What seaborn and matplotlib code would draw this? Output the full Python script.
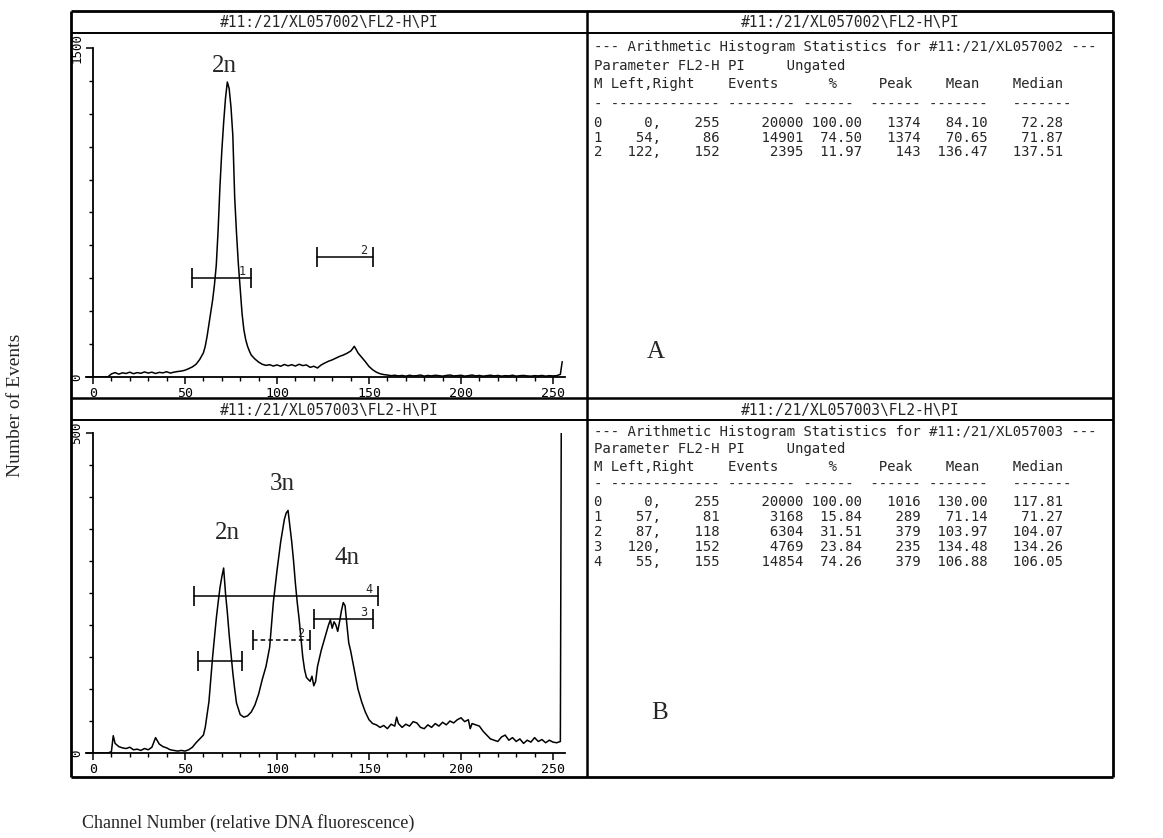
import numpy as np
import pandas as pd
import matplotlib
matplotlib.use("Agg")
import matplotlib.pyplot as plt
import seaborn as sns
from matplotlib.lines import Line2D

# ---------------- data ----------------
title_a = "#11:/21/XL057002\\FL2-H\\PI"
title_b = "#11:/21/XL057003\\FL2-H\\PI"

chan_a = [0, 2, 4, 6, 8, 10, 12, 14, 16, 18, 20, 22, 24, 26, 28, 30, 32, 34, 36, 38,
          40, 42, 44, 46, 48, 50, 52, 54, 56, 58,
          60, 61, 62, 63, 64, 65, 66, 67, 68, 69, 70, 71, 72, 73, 74, 75, 76, 77, 78, 79,
          80, 81, 82, 83, 84, 85, 86,
          88, 90, 92, 94, 96, 98, 100, 102, 104, 106, 108, 110, 112, 114, 116, 118, 120,
          122, 124, 126, 128, 130, 132, 134, 136, 138, 140, 141, 142, 143, 144, 146, 148,
          150, 152, 154, 156, 158, 160, 162, 164, 166, 168, 170, 172, 174, 176, 178, 180,
          182, 184, 186, 188, 190, 192, 194, 196, 198, 200, 202, 204, 206, 208, 210, 212,
          214, 216, 218, 220, 222, 224, 226, 228, 230, 232, 234, 236, 238, 240, 242, 244,
          246, 248, 250, 252, 254, 255]
count_a = [0, 0, 0, 0, 0, 14, 20, 13, 19, 16, 22, 15, 20, 17, 23, 18, 22, 16, 21, 19,
           24, 18, 22, 25, 27, 31, 38, 46, 58, 80,
           110, 140, 185, 240, 295, 350, 420, 510, 670, 870, 1030, 1160, 1270, 1345, 1315,
           1230, 1100, 820, 655, 515,
           400, 290, 215, 170, 140, 118, 100,
           82, 68, 58, 53, 56, 50, 55, 49, 57, 51, 56, 50, 58, 52, 55, 44, 49,
           41, 55, 64, 72, 78, 86, 94, 100, 108, 118, 128, 140, 126, 110, 90, 70,
           48, 33, 22, 15, 11, 9, 6, 8, 5, 7, 4, 8, 5, 6, 9, 4,
           7, 5, 8, 6, 4, 7, 9, 5, 6, 8, 4, 6, 9, 5, 7, 4,
           6, 8, 5, 7, 4, 6, 5, 8, 4, 6, 7, 5, 4, 6, 5, 7,
           4, 6, 5, 6, 12, 70]

chan_b = [0, 2, 4, 6, 8, 10, 11, 12, 14, 16, 18, 20, 22, 24, 26, 28, 30, 32, 34, 36,
          38, 40, 42, 44, 46, 48, 50, 52, 54, 56, 58,
          60, 61, 62, 63, 64, 65, 66, 67, 68, 69, 70, 71, 72, 73, 74, 75, 76, 77, 78,
          80, 82, 84, 86, 88, 90, 92, 94, 96, 98, 100, 102, 104, 105, 106, 107, 108, 109,
          110, 111, 112, 113, 114, 115, 116, 118, 119, 120, 121, 122, 124, 126, 128, 129,
          130, 131, 132, 133, 134, 135, 136, 137, 138, 139, 140, 142, 144, 146, 148, 150,
          152, 154, 156, 158, 160, 162, 164, 165, 166, 168, 170, 172, 174, 176, 178, 180,
          182, 184, 186, 188, 190, 192, 194, 196, 198, 200, 202, 204, 205, 206, 208, 210,
          212, 214, 216, 218, 220, 222, 224, 226, 228, 230, 232, 234, 236, 238, 240, 242,
          244, 246, 248, 250, 252, 254, 255]
count_b = [0, 0, 0, 0, 0, 2, 27, 15, 10, 8, 7, 9, 5, 6, 4, 7, 5, 9, 24, 14,
           10, 8, 5, 4, 3, 4, 3, 5, 9, 16, 22,
           28, 40, 60, 80, 115, 150, 180, 210, 235, 258, 275, 289, 250, 220, 185, 155,
           125, 100, 78,
           60, 56, 58, 64, 75, 92, 115, 135, 165, 235, 285, 330, 365, 375, 379, 355, 330,
           300, 265, 235, 210, 180, 150, 130, 118, 112, 120, 105, 112, 135, 160, 180,
           200, 208, 195, 205, 200, 190, 205, 222, 235, 230, 200, 172, 160, 130, 100, 80,
           64, 52, 46, 44, 40, 43, 38, 45, 42, 56, 46, 40, 45, 42, 49, 47, 40, 38,
           44, 40, 46, 42, 48, 44, 50, 47, 52, 55, 49, 52, 38, 46, 44, 42,
           34, 28, 22, 20, 18, 25, 28, 20, 24, 18, 22, 15, 20, 17, 24, 18,
           21, 16, 20, 17, 16, 18, 1016]

# histogram statistics (marker rows)
a_m = [0, 1, 2]
a_left = [0, 54, 122]
a_right = [255, 86, 152]
a_events = [20000, 14901, 2395]
a_pct = [100.00, 74.50, 11.97]
a_peak = [1374, 1374, 143]
a_mean = [84.10, 70.65, 136.47]
a_median = [72.28, 71.87, 137.51]

b_m = [0, 1, 2, 3, 4]
b_left = [0, 57, 87, 120, 55]
b_right = [255, 81, 118, 152, 155]
b_events = [20000, 3168, 6304, 4769, 14854]
b_pct = [100.00, 15.84, 31.51, 23.84, 74.26]
b_peak = [1016, 289, 379, 235, 379]
b_mean = [130.00, 71.14, 103.97, 134.48, 106.88]
b_median = [117.81, 71.27, 104.07, 134.26, 106.05]

x_ticks = [0, 50, 100, 150, 200, 250]
ymax_a = 1500
ymax_b = 500
ploidy_a = ["2n"]
ploidy_b = ["2n", "3n", "4n"]

# ---------------- figure ----------------
sns.set_theme(style="ticks")
plt.rcParams["font.family"] = ["DejaVu Sans", "DejaVu Sans Mono"]
MONO = "DejaVu Sans Mono"
SERIF = "Liberation Serif"

W, H = 1163, 838
fig = plt.figure(figsize=(W / 100, H / 100), dpi=100)
fig.patch.set_facecolor("white")


def fx(x):
    return x / W


def fy(y):
    return 1 - y / H


def seg(x0, y0, x1, y1, lw=1.6):
    fig.add_artist(Line2D([fx(x0), fx(x1)], [fy(y0), fy(y1)],
                          transform=fig.transFigure, color="black", lw=lw,
                          solid_capstyle="butt"))


# frame
L, R, T, B = 71, 1113, 11, 777
MIDX, MIDY = 587, 398
seg(L, T, R, T, 2.0)
seg(L, B, R, B, 2.0)
seg(L, T, L, B, 2.0)
seg(R, T, R, B, 2.0)
seg(MIDX, T, MIDX, B, 1.8)
seg(L, MIDY, R, MIDY, 1.8)
seg(L, 33, R, 33, 1.4)
seg(L, 420, R, 420, 1.4)

# panel titles
for cx in [(L + MIDX) / 2, (MIDX + R) / 2]:
    fig.text(fx(cx), fy(22), title_a, family=MONO, fontsize=10.5, ha="center", va="center")
    fig.text(fx(cx), fy(410), title_b, family=MONO, fontsize=10.5, ha="center", va="center")

PPC = 1.84          # pixels per channel
X0PX = 93           # pixel of channel 0
XMIN, XMAX = -4, 256.5
ax_left = X0PX + XMIN * PPC
ax_w = (XMAX - XMIN) * PPC


def make_axes(base_px, top_px, ymax):
    ax = fig.add_axes([fx(ax_left), fy(base_px), ax_w / W, (base_px - top_px) / H])
    ax.set_xlim(XMIN, XMAX)
    ax.set_ylim(0, ymax)
    ax.set_facecolor("none")
    sns.despine(ax=ax)
    ax.spines["left"].set_position(("data", 0))
    for s in ["left", "bottom"]:
        ax.spines[s].set_linewidth(1.3)
        ax.spines[s].set_color("black")
    ax.set_xticks(x_ticks)
    ax.set_xticklabels([str(t) for t in x_ticks], family=MONO, fontsize=9.5)
    ax.set_xticks(np.arange(0, 256, 10), minor=True)
    ax.set_yticks([0, ymax])
    ax.set_yticklabels(["0", str(ymax)], family=MONO, fontsize=9, rotation=90, va="center")
    ax.set_yticks(np.linspace(0, ymax, 11), minor=True)
    ax.tick_params(axis="both", which="major", length=5, width=1.1, color="black",
                   direction="out", pad=2, labelcolor="black")
    ax.tick_params(axis="both", which="minor", length=3, width=1.0, color="black",
                   direction="out")
    ax.grid(False)
    return ax


axA = make_axes(377, 48, ymax_a)
axB = make_axes(753, 433, ymax_b)

dfA = pd.DataFrame({"channel": chan_a, "count": count_a})
dfB = pd.DataFrame({"channel": chan_b, "count": count_b})
sns.lineplot(data=dfA, x="channel", y="count", ax=axA, color="black", lw=1.1)
sns.lineplot(data=dfB, x="channel", y="count", ax=axB, color="black", lw=1.1)
for ax in (axA, axB):
    ax.set_xlabel("")
    ax.set_ylabel("")


def draw_gate(ax, m, left, right, level, ls="-"):
    ax.plot([left, right], [level, level], color="black", lw=1.1, ls=ls)
    ax.plot([left, right], [level, level], ls="none", marker="|", ms=14, mew=1.2,
            color="black")
    if m is not None:
        ax.text(right - 5, level, str(m), family=MONO, fontsize=8.5, ha="center",
                va="bottom")


# marker levels (drawing positions)
gate_level_a = {1: 451, 2: 547}
gate_level_b = {1: 144, 2: 177, 3: 209, 4: 245}
for m, l, r in zip(a_m[1:], a_left[1:], a_right[1:]):
    draw_gate(axA, m, l, r, gate_level_a[m])
for m, l, r in zip(b_m[1:], b_left[1:], b_right[1:]):
    draw_gate(axB, None if m == 1 else m, l, r, gate_level_b[m],
              ls=(0, (3, 2)) if m == 2 else "-")

# ploidy labels
axA.text(71.5, 1420, ploidy_a[0], family=SERIF, fontsize=18, ha="center", va="center")
for lab, (xc, yc) in zip(ploidy_b, [(73, 344), (103, 420), (138, 305)]):
    axB.text(xc, yc, lab, family=SERIF, fontsize=18, ha="center", va="center")


# statistics text
def stat_lines(fname, m, le, ri, ev, pc, pk, mn, md):
    lines = ["--- Arithmetic Histogram Statistics for " + fname + " ---",
             "Parameter FL2-H PI     Ungated",
             "M Left,Right    Events      %     Peak    Mean    Median",
             "- ------------- -------- ------  ------ -------   -------"]
    for i in range(len(m)):
        lines.append(f"{m[i]:<1}{le[i]:>6},{ri[i]:>7}{ev[i]:>10}{pc[i]:>7.2f}"
                     f"{pk[i]:>7}{mn[i]:>8.2f}{md[i]:>9.2f}")
    return lines


linesA = stat_lines("#11:/21/XL057002", a_m, a_left, a_right, a_events, a_pct, a_peak,
                    a_mean, a_median)
linesB = stat_lines("#11:/21/XL057003", b_m, b_left, b_right, b_events, b_pct, b_peak,
                    b_mean, b_median)
ys_a = [47, 66, 84, 104, 123, 138, 152]
ys_b = [432, 449, 467, 484, 502, 517, 532, 547, 562]
for txt, yy in zip(linesA, ys_a):
    fig.text(fx(594), fy(yy), txt, family=MONO, fontsize=10.1, ha="left", va="center")
for txt, yy in zip(linesB, ys_b):
    fig.text(fx(594), fy(yy), txt, family=MONO, fontsize=10.1, ha="left", va="center")

fig.text(fx(656), fy(352), "A", family=SERIF, fontsize=18, ha="center", va="center")
fig.text(fx(660), fy(713), "B", family=SERIF, fontsize=18, ha="center", va="center")

fig.text(fx(15), fy(405), "Number of Events", family=SERIF, fontsize=14, rotation=90,
         ha="center", va="center")
fig.text(fx(82), fy(823), "Channel Number (relative DNA fluorescence)", family=SERIF,
         fontsize=13, ha="left", va="center")

fig.savefig("out.png", dpi=100, facecolor="white")
